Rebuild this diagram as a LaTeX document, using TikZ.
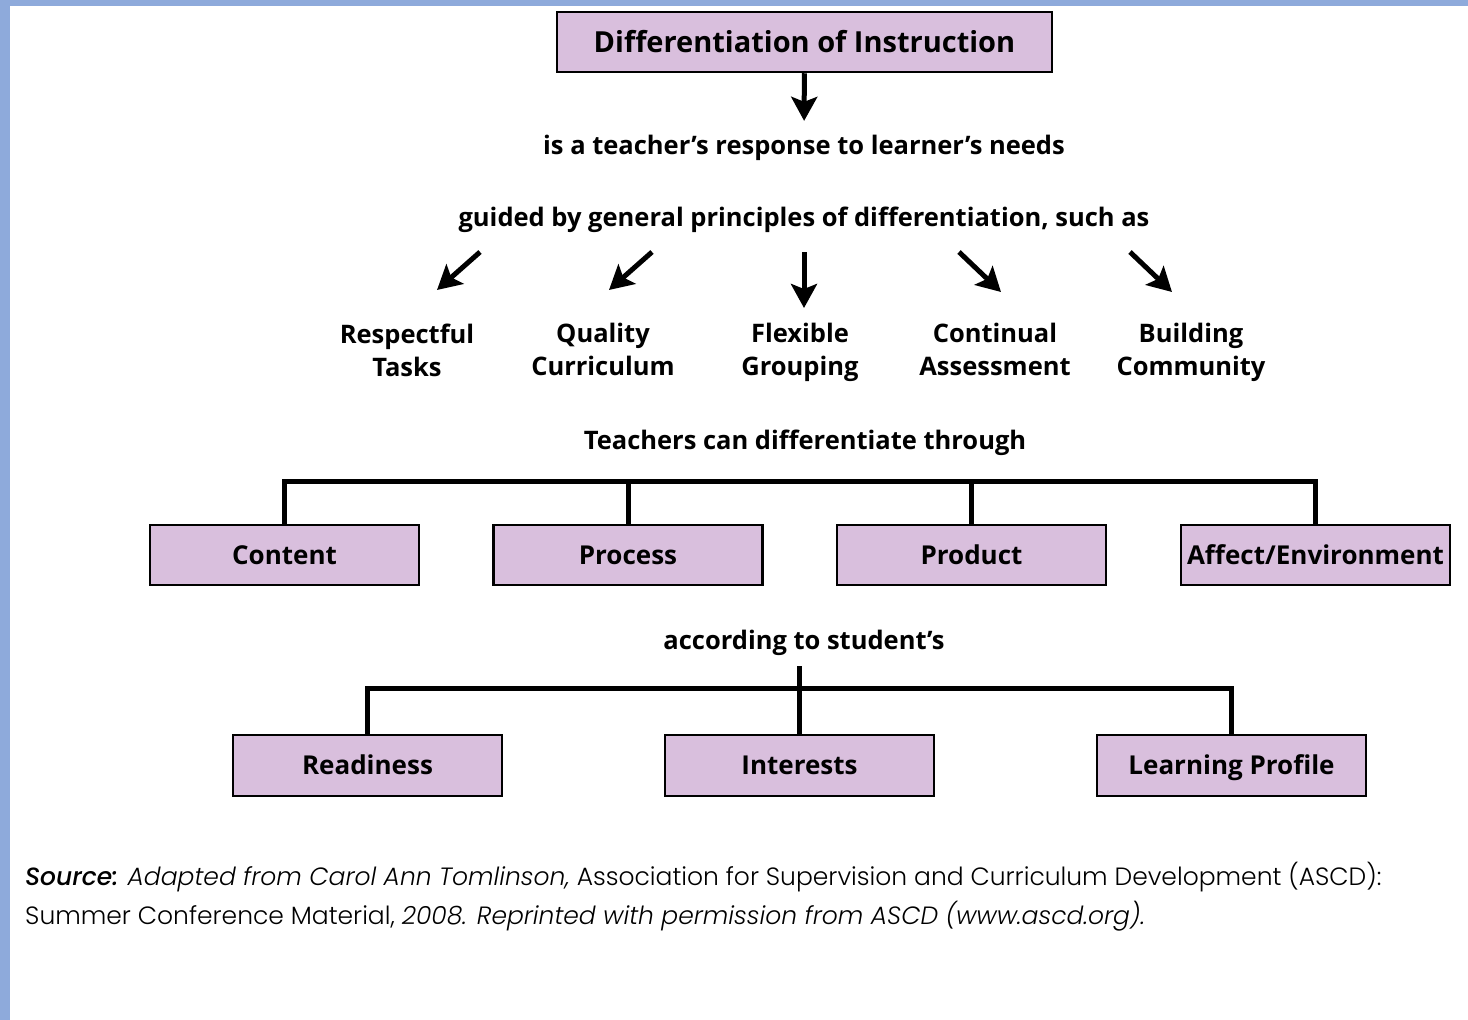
\documentclass[tikz,border=0pt]{standalone}
\usepackage{fontspec}
\usetikzlibrary{arrows.meta, positioning, calc}
\newfontfamily\gill{Open Sans}
\newfontfamily\futura{Poppins}[UprightFont=* Light, ItalicFont=* Light Italic, BoldItalicFont=* Medium Italic]
\definecolor{lilac}{RGB}{217,191,221}
\definecolor{frame}{RGB}{142,170,219}

\begin{document}
\begin{tikzpicture}[x=1pt, y=-1pt,
	box/.style={draw, line width=2.5pt, fill=lilac, minimum width=269pt, minimum height=60pt, inner sep=0pt,
		text height=20.5pt, text depth=2pt, font=\gill\bfseries\fontsize{26}{30}\selectfont},
	txt/.style={font=\gill\bfseries\fontsize{25.5}{33}\selectfont, align=center, inner sep=0pt, text depth=2.5pt},
	arr/.style={line width=5pt, -{Stealth[length=24pt,width=26pt,inset=5pt]}},
	bar/.style={line width=5pt}]
	\fill[frame] (0,0) rectangle (1468,1020);
	\fill[white] (10,6) rectangle (1468,1020);
	\useasboundingbox (0,0) rectangle (1468,1020);

	\node[box, minimum width=495pt, text height=22.5pt, font=\gill\bfseries\fontsize{29}{30}\selectfont] (diff) at (804.5,42) {Differentiation of Instruction};
	\node[txt] (resp) at (804,146) {is a teacher’s response to learner’s needs};
	\draw[arr, shorten >=14pt] (diff) -- (resp);

	\node[txt] (guide) at (804,218) {guided by general principles of differentiation, such as};
	\node[txt] (tasks) at (407,351) {Respectful\\Tasks};
	\node[txt] (curric) at (603,351) {Quality\\Curriculum};
	\node[txt] (group) at (800,351) {Flexible\\Grouping};
	\node[txt] (assess) at (995,351) {Continual\\Assessment};
	\node[txt] (commun) at (1191,351) {Building\\Community};
	\coordinate (tasks-tail) at (480,252);
	\coordinate (tasks-tip) at (437,290);
	\coordinate (curric-tail) at (652,252);
	\coordinate (curric-tip) at (609,290);
	\coordinate (group-tail) at (804,252);
	\coordinate (group-tip) at (804,308);
	\coordinate (assess-tail) at (959,252);
	\coordinate (assess-tip) at (1001,292);
	\coordinate (commun-tail) at (1130,252);
	\coordinate (commun-tip) at (1172,292);
	\foreach \n in {tasks, curric, group, assess, commun}
		\draw[arr] (\n-tail) -- (\n-tip);

	\node[txt] (through) at (805,441) {Teachers can differentiate through};
	\node[box] (content) at (284.5,555) {Content};
	\node[box] (process) at (628,555) {Process};
	\node[box] (product) at (971.5,555) {Product};
	\node[box] (affect) at (1315.5,555) {Affect/Environment};
	\coordinate (bar1) at (804,481);
	\draw[bar] (content.north) |- (bar1) -| (affect.north);
	\draw[bar] (process.north) -- (process.north |- bar1);
	\draw[bar] (product.north) -- (product.north |- bar1);

	\node[txt] (accord) at (804,641) {according to student’s};
	\node[box, minimum height=61pt] (ready) at (367.5,765.5) {Readiness};
	\node[box, minimum height=61pt] (interest) at (799.5,765.5) {Interests};
	\node[box, minimum height=61pt] (profile) at (1231.5,765.5) {Learning Profile};
	\coordinate (bar2) at (800,688);
	\draw[bar] (ready.north) |- (bar2) -| (profile.north);
	\draw[bar, shorten <=14pt] (accord.south -| interest.north) -- (interest.north);

	\node[anchor=north west, align=left, inner sep=0pt, font=\futura\fontsize{25}{39}\selectfont] (source) at (25,862)
		{\textbf{\textit{Source:}} \textit{Adapted from Carol Ann Tomlinson,} Association for Supervision and Curriculum Development (ASCD):\\
		Summer Conference Material, \textit{2008. Reprinted with permission from ASCD (www.ascd.org).}};
\end{tikzpicture}
\end{document}
